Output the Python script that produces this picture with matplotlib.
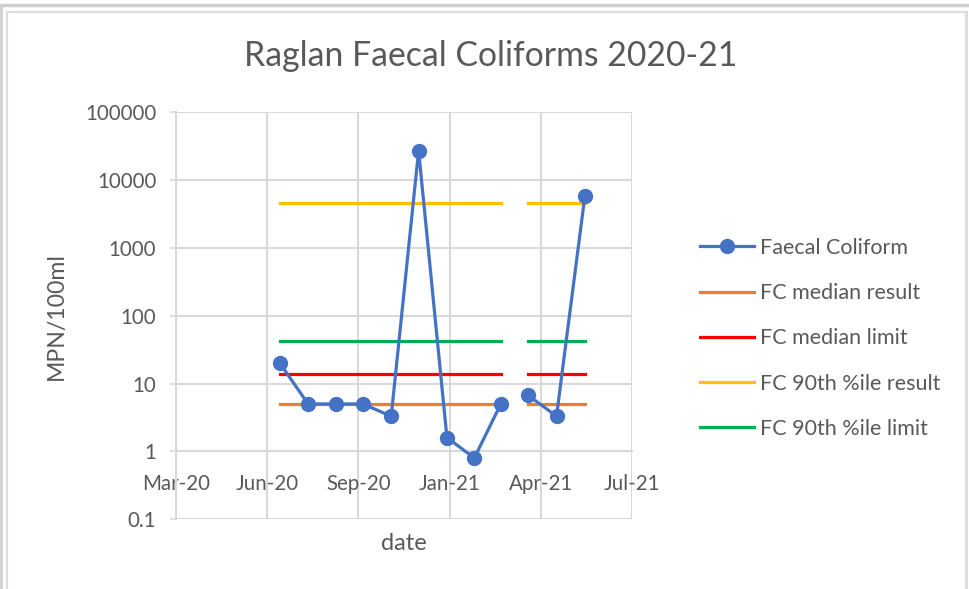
import numpy as np
import pandas as pd
import matplotlib
matplotlib.use('Agg')
import matplotlib.pyplot as plt
import matplotlib.dates as mdates
from matplotlib.lines import Line2D

plt.rcParams['font.family'] = ['Lato', 'DejaVu Sans']

# ── data ────────────────────────────────────────────────────────────────────
dates = pd.to_datetime([
    '2020-07-02', '2020-08-02', '2020-09-02', '2020-10-01', '2020-11-01',
    '2020-12-01', '2021-01-01', '2021-01-31', '2021-03-01',
    '2021-03-16',                       # blank row -> gap in every series
    '2021-03-31', '2021-05-01', '2021-06-01',
])
nan = np.nan
faecal_coliform = [20, 5, 5, 5, 3.3, 27000, 1.6, 0.8, 5, nan, 6.7, 3.3, 5700]
fc_median_result = [5, 5, 5, 5, 5, 5, 5, 5, 5, nan, 5, 5, 5]
fc_median_limit = [14, 14, 14, 14, 14, 14, 14, 14, 14, nan, 14, 14, 14]
fc_90_result = [4500, 4500, 4500, 4500, 4500, 4500, 4500, 4500, 4500, nan,
                4500, 4500, 4500]
fc_90_limit = [43, 43, 43, 43, 43, 43, 43, 43, 43, nan, 43, 43, 43]

# Excel date axis: 43900 .. 44400 with major unit 100 days
x_ticks = pd.date_range('2020-03-10', periods=6, freq='100D')
y_ticks = [0.1, 1, 10, 100, 1000, 10000, 100000]
y_labels = ['0.1', '1', '10', '100', '1000', '10000', '100000']

GREY_TXT = '#595959'
GRID = '#D9D9D9'

fig = plt.figure(figsize=(9.69, 5.89), dpi=100)
ax = fig.add_axes([175.7 / 969, 1 - 519.3 / 589, (632.3 - 175.7) / 969,
                   (519.3 - 112) / 589])

ax.plot(dates, faecal_coliform, color='#4472C4', lw=2.3, marker='o',
        ms=10, label='Faecal Coliform', zorder=5)
ax.plot(dates, fc_median_result, color='#ED7D31', lw=2.3,
        label='FC median result', zorder=4)
ax.plot(dates, fc_median_limit, color='#FF0000', lw=2.3,
        label='FC median limit', zorder=4)
ax.plot(dates, fc_90_result, color='#FFC000', lw=2.3,
        label='FC 90th %ile result', zorder=4)
ax.plot(dates, fc_90_limit, color='#00B050', lw=2.3,
        label='FC 90th %ile limit', zorder=4)

ax.set_yscale('log')
ax.set_ylim(0.1, 100000)
ax.set_yticks(y_ticks)
ax.set_yticklabels(y_labels)
ax.minorticks_off()
ax.set_xlim(x_ticks[0], x_ticks[-1])
ax.set_xticks(x_ticks)
ax.xaxis.set_major_formatter(mdates.DateFormatter('%b-%y'))

# horizontal axis crosses at y = 1, like the Excel chart
for s in ['top', 'right']:
    ax.spines[s].set_visible(False)
ax.spines['bottom'].set_position(('data', 1))
ax.spines['bottom'].set_color(GRID)
ax.spines['bottom'].set_linewidth(1.5)
ax.spines['left'].set_color(GRID)
ax.spines['left'].set_linewidth(1.5)

ax.grid(True, color=GRID, lw=1.5)
ax.set_axisbelow(True)
ax.tick_params(axis='y', length=4, width=1.2, color=GRID, pad=10,
               labelsize=14.8, labelcolor=GREY_TXT)
ax.tick_params(axis='x', length=0, pad=16, labelsize=14.8,
               labelcolor=GREY_TXT)
for lbl in ax.get_xticklabels():
    lbl.set_zorder(6)

ax.set_ylabel('MPN/100ml', fontsize=16.6, color=GREY_TXT)
ax.yaxis.set_label_coords(-0.238, 0.5)
ax.set_xlabel('date', fontsize=17, color=GREY_TXT)
ax.xaxis.set_label_coords(0.5, -0.034)

fig.text(491 / 969, 1 - 56 / 589, 'Raglan Faecal Coliforms 2020-21',
         ha='center', va='center', fontsize=24.3, color=GREY_TXT)

leg = fig.legend(loc='upper left',
                 bbox_to_anchor=(680.6 / 969, 1 - 218.6 / 589),
                 frameon=False, fontsize=15.5, handlelength=2.5,
                 handletextpad=0.28, labelspacing=1.17, labelcolor=GREY_TXT)

# chart-area border of the screenshot
fig.add_artist(Line2D([0, 1], [1 - 5 / 589] * 2, color='#D0D0D0', lw=2.5))
fig.add_artist(Line2D([1 / 969] * 2, [0, 1 - 5 / 589], color='#D0D0D0', lw=2))
fig.add_artist(Line2D([7 / 969, 966 / 969], [1 - 12 / 589] * 2,
                      color='#DCDCDC', lw=1.5))
fig.add_artist(Line2D([7 / 969] * 2, [0, 1 - 12 / 589],
                      color='#DCDCDC', lw=1.5))
fig.add_artist(Line2D([966 / 969] * 2, [0, 1 - 12 / 589],
                      color='#DCDCDC', lw=2))

fig.savefig('out.png', dpi=100, facecolor='white')
plt.close(fig)
